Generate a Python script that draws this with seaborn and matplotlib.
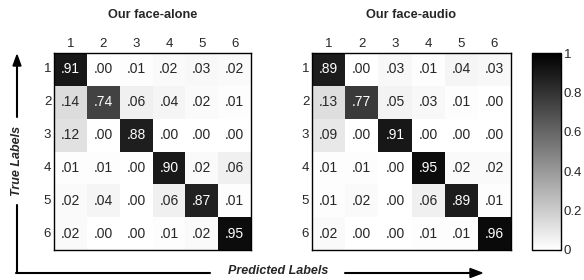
import numpy as np
import pandas as pd
import matplotlib
matplotlib.use("Agg")
import matplotlib.pyplot as plt
import seaborn as sns
from matplotlib.lines import Line2D

classes = ["1", "2", "3", "4", "5", "6"]
face_alone = [
    [0.91, 0.00, 0.01, 0.02, 0.03, 0.02],
    [0.14, 0.74, 0.06, 0.04, 0.02, 0.01],
    [0.12, 0.00, 0.88, 0.00, 0.00, 0.00],
    [0.01, 0.01, 0.00, 0.90, 0.02, 0.06],
    [0.02, 0.04, 0.00, 0.06, 0.87, 0.01],
    [0.02, 0.00, 0.00, 0.01, 0.02, 0.95],
]
face_audio = [
    [0.89, 0.00, 0.03, 0.01, 0.04, 0.03],
    [0.13, 0.77, 0.05, 0.03, 0.01, 0.00],
    [0.09, 0.00, 0.91, 0.00, 0.00, 0.00],
    [0.01, 0.01, 0.00, 0.95, 0.02, 0.02],
    [0.01, 0.02, 0.00, 0.06, 0.89, 0.01],
    [0.02, 0.00, 0.00, 0.01, 0.01, 0.96],
]
titles = ["Our face-alone", "Our face-audio"]
cbar_ticks = [0, 0.2, 0.4, 0.6, 0.8, 1]
cbar_labels = ["0", "0.2", "0.4", "0.6", "0.8", "1"]

sns.set_style("white")
plt.rcParams["font.family"] = ["Liberation Sans", "DejaVu Sans"]

W, H = 584, 280
fig = plt.figure(figsize=(W / 100, H / 100), dpi=100)

def fx(px):
    return px / W

def fy(py):
    return 1 - py / H

bottom = fy(250)
height = (250 - 53) / H
ax1 = fig.add_axes([fx(54), bottom, (251 - 54) / W, height])
ax2 = fig.add_axes([fx(312), bottom, (511 - 312) / W, height])
cax = fig.add_axes([fx(532), bottom, (561 - 532) / W, height])

for i, (ax, data, title) in enumerate(zip([ax1, ax2], [face_alone, face_audio], titles)):
    df = pd.DataFrame(data, index=classes, columns=classes)
    annot = df.map(lambda v: ("%.2f" % v)[1:] if v < 1 else "%.2f" % v)
    sns.heatmap(df, ax=ax, cmap="gray_r", vmin=0, vmax=1, annot=annot.values, fmt="",
                annot_kws={"fontsize": 10}, cbar=(i == 1), cbar_ax=cax if i == 1 else None,
                square=False, linewidths=0)
    ax.xaxis.tick_top()
    ax.tick_params(axis="both", length=0, labelsize=9.5, pad=2)
    ax.set_yticklabels(classes, rotation=0)
    ax.set_xticklabels(classes, rotation=0)
    ax.set_xlabel("")
    ax.set_ylabel("")
    for s in ax.spines.values():
        s.set_visible(True)
        s.set_color("black")
        s.set_linewidth(1.0)
    ax.set_title(title, fontsize=9.2, fontweight="bold", pad=25)

cbar = ax2.collections[0].colorbar
cbar.set_ticks(cbar_ticks)
cbar.set_ticklabels(cbar_labels)
cbar.ax.tick_params(labelsize=9.5, length=2, direction="in", pad=2, right=True, left=True)
cbar.outline.set_visible(True)
cbar.outline.set_edgecolor("black")
cbar.outline.set_linewidth(1.0)

# True Labels arrow (vertical)
lx = fx(17)
fig.add_artist(Line2D([lx, lx], [fy(273), fy(205)], color="black", lw=1.5, transform=fig.transFigure))
fig.add_artist(Line2D([lx, lx], [fy(117), fy(64)], color="black", lw=1.5, transform=fig.transFigure))
fig.patches.append(plt.Polygon([[lx - fx(4), fy(66)], [lx + fx(4), fy(66)], [lx, fy(55)]],
                               closed=True, color="black", transform=fig.transFigure))
fig.text(lx, fy(161), "True Labels", rotation=90, ha="center", va="center",
         fontsize=9, fontweight="bold", fontstyle="italic")

# Predicted Labels arrow (horizontal)
yy = fy(273)
fig.add_artist(Line2D([lx - fx(0.75), fx(210)], [yy, yy], color="black", lw=1.5, transform=fig.transFigure))
fig.add_artist(Line2D([fx(345), fx(472)], [yy, yy], color="black", lw=1.5, transform=fig.transFigure))
fig.patches.append(plt.Polygon([[fx(470), yy + 4.5 / H], [fx(470), yy - 4.5 / H], [fx(482), yy]],
                               closed=True, color="black", transform=fig.transFigure))
fig.text(fx(278), fy(271), "Predicted Labels", ha="center", va="center",
         fontsize=9, fontweight="bold", fontstyle="italic")

fig.savefig("out.png", dpi=100)
